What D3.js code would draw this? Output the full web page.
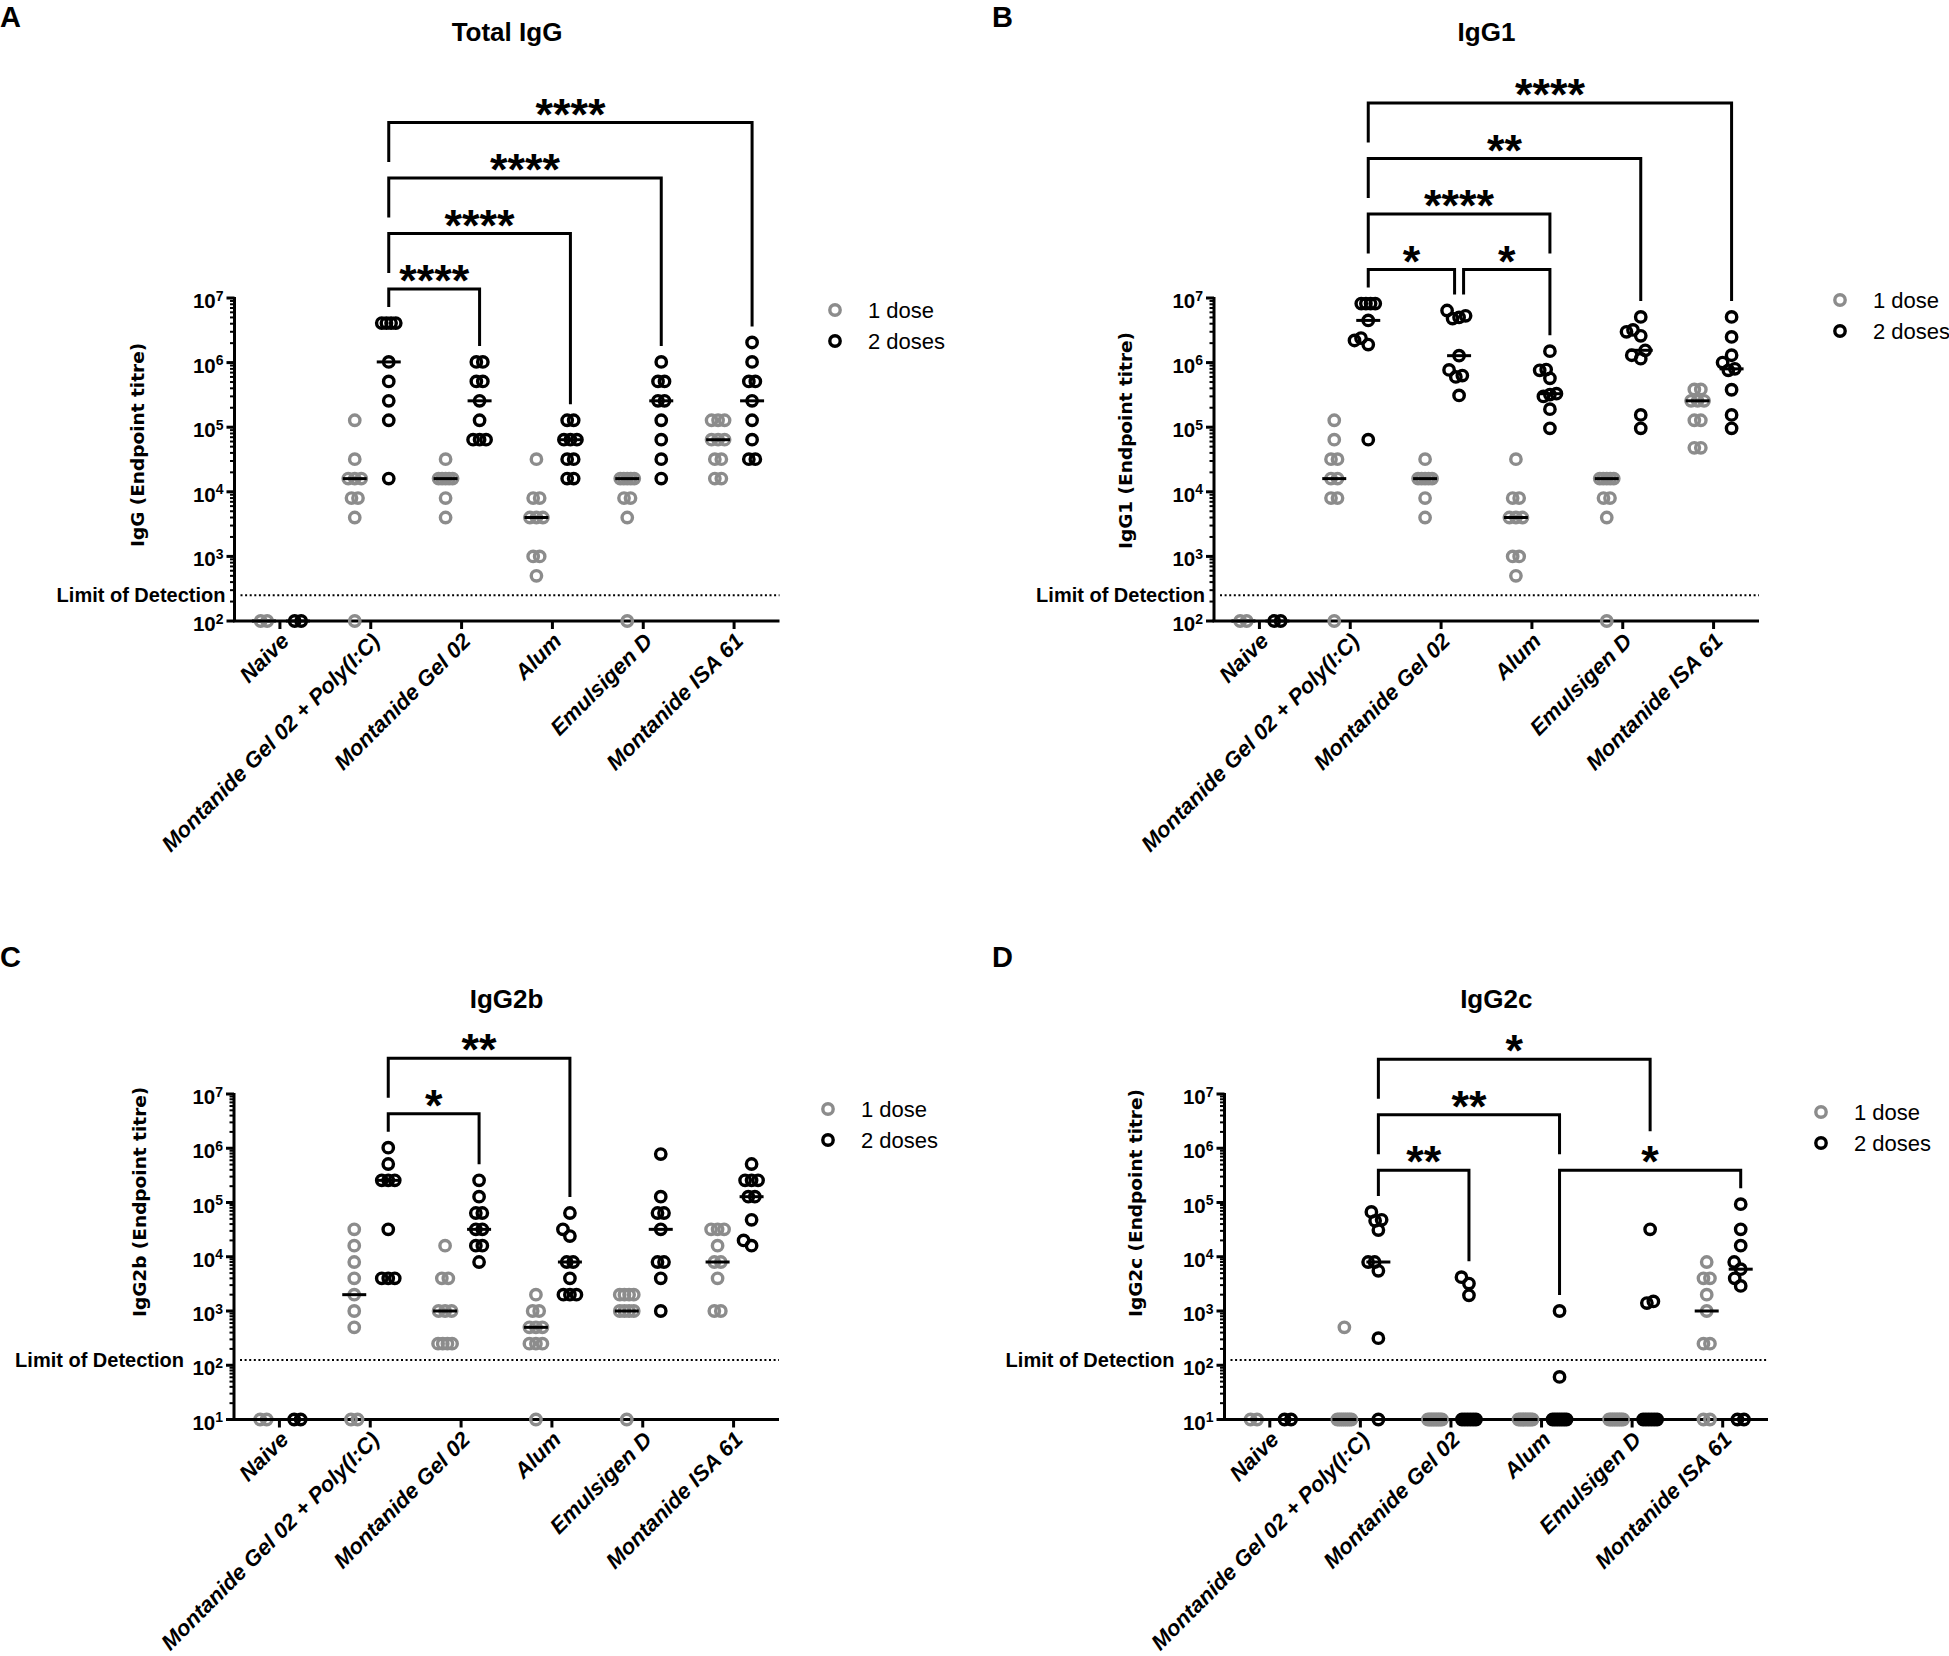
<!DOCTYPE html>
<html>
<head>
<meta charset="utf-8">
<script src="https://cdn.jsdelivr.net/npm/d3@7"></script>
<style>
  body { margin: 0; background: #fff; }
  svg { display: block; }
</style>
</head>
<body>
<svg id="chart" width="1949" height="1656"></svg>
<script>
// ---------------- DATA ----------------
const categories = ["Naive", "Montanide Gel 02 + Poly(I:C)", "Montanide Gel 02", "Alum", "Emulsigen D", "Montanide ISA 61"];
const doseLabels = ["1 dose", "2 doses"];
const panelLetters = ["A", "B", "C", "D"];
const panelTitles = ["Total IgG", "IgG1", "IgG2b", "IgG2c"];
const yAxisTitles = ["IgG (Endpoint titre)", "IgG1 (Endpoint titre)", "IgG2b (Endpoint titre)", "IgG2c (Endpoint titre)"];
const yDomains = [[1e2, 1e7], [1e2, 1e7], [1e1, 1e7], [1e1, 1e7]];
const detectionLimits = [250, 250, 125, 125];
const detectionLabel = "Limit of Detection";

// Total IgG
const iggDose1 = [
  [100, 100],
  [128000, 32000, 16000, 16000, 16000, 8000, 8000, 4000, 100],
  [32000, 16000, 16000, 16000, 16000, 16000, 8000, 4000],
  [32000, 8000, 8000, 4000, 4000, 4000, 1000, 1000, 500],
  [16000, 16000, 16000, 16000, 16000, 8000, 8000, 4000, 100],
  [128000, 128000, 128000, 64000, 64000, 64000, 32000, 32000, 16000, 16000]
];
const iggDose2 = [
  [100, 100],
  [4096000, 4096000, 4096000, 4096000, 1024000, 512000, 256000, 128000, 16000],
  [1024000, 1024000, 512000, 512000, 256000, 128000, 64000, 64000, 64000],
  [128000, 128000, 64000, 64000, 64000, 32000, 32000, 16000, 16000],
  [1024000, 512000, 512000, 256000, 256000, 128000, 64000, 32000, 16000],
  [2048000, 1024000, 512000, 512000, 256000, 128000, 64000, 32000, 32000]
];
// IgG1
const igg1Dose1 = [
  [100, 100],
  [128000, 64000, 32000, 32000, 16000, 16000, 8000, 8000, 100],
  [32000, 16000, 16000, 16000, 16000, 16000, 8000, 4000],
  [32000, 8000, 8000, 4000, 4000, 4000, 1000, 1000, 500],
  [16000, 16000, 16000, 16000, 16000, 8000, 8000, 4000, 100],
  [384000, 384000, 256000, 256000, 256000, 128000, 128000, 48000, 48000]
];
const igg1Dose2 = [
  [100, 100],
  [8192000, 8192000, 8192000, 8192000, 4500000, 2400000, 2200000, 1900000, 64000],
  [6400000, 5300000, 5000000, 4800000, 1280000, 770000, 630000, 600000, 310000],
  [1500000, 780000, 760000, 570000, 330000, 320000, 300000, 190000, 96000],
  [5100000, 3200000, 3000000, 2600000, 1550000, 1300000, 1150000, 155000, 96000],
  [5100000, 2500000, 1300000, 1000000, 800000, 760000, 380000, 155000, 96000]
];
// IgG2b
const igg2bDose1 = [
  [10, 10],
  [32000, 16000, 8000, 4000, 2000, 1000, 500, 10, 10],
  [16000, 4000, 4000, 1000, 1000, 1000, 250, 250, 250, 250],
  [2000, 1000, 1000, 500, 500, 500, 250, 250, 250, 10],
  [2000, 2000, 2000, 2000, 1000, 1000, 1000, 1000, 10],
  [32000, 32000, 32000, 16000, 8000, 8000, 4000, 1000, 1000]
];
const igg2bDose2 = [
  [10, 10],
  [1024000, 512000, 256000, 256000, 256000, 32000, 4000, 4000, 4000],
  [256000, 128000, 64000, 64000, 32000, 32000, 16000, 16000, 8000],
  [64000, 32000, 24000, 8000, 8000, 4000, 2000, 2000, 2000],
  [780000, 128000, 64000, 64000, 32000, 8000, 8000, 4000, 1000],
  [512000, 256000, 256000, 256000, 128000, 128000, 48000, 20000, 16000]
];
// IgG2c
const igg2cDose1 = [
  [10, 10],
  [500, 10, 10, 10, 10, 10, 10, 10, 10],
  [10, 10, 10, 10, 10, 10, 10, 10, 10],
  [10, 10, 10, 10, 10, 10, 10, 10, 10],
  [10, 10, 10, 10, 10, 10, 10, 10, 10],
  [8000, 4000, 4000, 2000, 1000, 250, 250, 10, 10]
];
const igg2cDose2 = [
  [10, 10],
  [67000, 48000, 46000, 31000, 8000, 8000, 5500, 316, 10],
  [4200, 3200, 1950, 10, 10, 10, 10, 10, 10],
  [1000, 61, 10, 10, 10, 10, 10, 10, 10],
  [32000, 1500, 1400, 10, 10, 10, 10, 10, 10],
  [93000, 32000, 16000, 8000, 5900, 4000, 2900, 10, 10]
];

// significance comparisons: [from category, to category, label, stacking level]
const comparisonsA = [[1, 2, "****", 1], [1, 3, "****", 2], [1, 4, "****", 3], [1, 5, "****", 4]];
const comparisonsB = [[1, 2, "*", 1], [2, 3, "*", 1], [1, 3, "****", 2], [1, 4, "**", 3], [1, 5, "****", 4]];
const comparisonsC = [[1, 2, "*", 1], [1, 3, "**", 2]];
const comparisonsD = [[1, 2, "**", 1], [3, 5, "*", 1], [1, 3, "**", 2], [1, 4, "*", 3]];

// ---------------- LAYOUT ----------------
const panels = [
  { dose1: iggDose1,   dose2: iggDose2,   comps: comparisonsA, x0: 234.5, x1: 779.5, yTop: 298,  yBot: 621,    letterX: 0,   letterY: 27,  titleY: 41,   legX: 835,  legY: 310,  yTitleX: 138,  yTitleBottom: 547 },
  { dose1: igg1Dose1,  dose2: igg1Dose2,  comps: comparisonsB, x0: 1214,  x1: 1759,  yTop: 298,  yBot: 621,    letterX: 992, letterY: 27,  titleY: 41,   legX: 1840, legY: 300,  yTitleX: 1126, yTitleBottom: 549 },
  { dose1: igg2bDose1, dose2: igg2bDose2, comps: comparisonsC, x0: 234,   x1: 779,   yTop: 1094, yBot: 1419.5, letterX: 0,   letterY: 967, titleY: 1008, legX: 828,  legY: 1109, yTitleX: 140,  yTitleBottom: 1317 },
  { dose1: igg2cDose1, dose2: igg2cDose2, comps: comparisonsD, x0: 1224.5, x1: 1768, yTop: 1094, yBot: 1419.5, letterX: 992, letterY: 967, titleY: 1008, legX: 1821, legY: 1112, yTitleX: 1136, yTitleBottom: 1317 }
];

const GRAY = "#8c8c8c", BLACK = "#000";
const FONT = "'Liberation Sans', Arial, Helvetica, sans-serif";
const R = 5.2, SW = 3.4;
const OFF1 = -16, OFF2 = 18;

const svg = d3.select("#chart");
svg.append("rect").attr("width", 1949).attr("height", 1656).attr("fill", "#fff");

function swarm(values, cx, y) {
  const pts = values.map(v => ({ v, y: y(v) })).sort((a, b) => b.y - a.y);
  const rows = [];
  for (const p of pts) {
    const last = rows[rows.length - 1];
    if (last && Math.abs(last[0].y - p.y) < 3) last.push(p); else rows.push([p]);
  }
  const placed = [];
  const D = 9.5;
  for (const row of rows) {
    const k = row.length;
    const s = k > 1 ? Math.min(6.5, 14 / (k - 1)) : 0;
    const offs = row.map((p, i) => (i - (k - 1) / 2) * s);
    let chosen = 0;
    outer:
    for (let step = 0; step <= 80; step++) {
      const cands = step === 0 ? [0] : [-step * 0.5, step * 0.5];
      for (const c of cands) {
        const ok = row.every((p, i) => placed.every(q => Math.hypot(cx + c + offs[i] - q.x, p.y - q.y) >= D));
        if (ok) { chosen = c; break outer; }
      }
    }
    row.forEach((p, i) => { p.x = cx + chosen + offs[i]; placed.push(p); });
  }
  return placed;
}

panels.forEach((P, pi) => {
  const g = svg.append("g");
  const x = d3.scaleBand().domain(categories).range([P.x0, P.x1]);
  const y = d3.scaleLog().domain(yDomains[pi]).range([P.yBot, P.yTop]);
  const cx = i => x(categories[i]) + x.bandwidth() / 2;
  const xDose2 = i => cx(i) + OFF2;

  // letter & title
  g.append("text").attr("x", P.letterX).attr("y", P.letterY).text(panelLetters[pi])
    .attr("font-family", FONT).attr("font-weight", "bold").attr("font-size", 29);
  g.append("text").attr("x", (P.x0 + P.x1) / 2).attr("y", P.titleY).text(panelTitles[pi])
    .attr("text-anchor", "middle").attr("font-family", FONT).attr("font-weight", "bold").attr("font-size", 26);

  // LOD line
  const lod = detectionLimits[pi];
  const yl = y(lod);
  g.append("line").attr("x1", P.x0 + 6).attr("x2", P.x1).attr("y1", yl).attr("y2", yl)
    .attr("stroke", BLACK).attr("stroke-width", 2).attr("stroke-dasharray", "2,2.6");
  const majors = d3.range(Math.log10(yDomains[pi][0]), Math.log10(yDomains[pi][1]) + 1).map(e => Math.pow(10, e));
  const nearTick = d3.min(majors, m => Math.abs(y(m) - yl)) < 20;
  g.append("text").attr("x", nearTick ? P.x0 - 50 : P.x0 - 9).attr("y", yl + 7).text(detectionLabel)
    .attr("text-anchor", "end").attr("font-family", FONT).attr("font-weight", "bold").attr("font-size", 20);

  // y axis
  const yAxisG = g.append("g");
  yAxisG.append("line").attr("x1", P.x0).attr("x2", P.x0).attr("y1", P.yTop - 1).attr("y2", P.yBot)
    .attr("stroke", BLACK).attr("stroke-width", 3);
  const minors = [];
  majors.slice(0, -1).forEach(m => { for (let k = 2; k <= 9; k++) minors.push(m * k); });
  yAxisG.selectAll(".minor").data(minors).join("line")
    .attr("x1", P.x0 - 4.5).attr("x2", P.x0).attr("y1", d => y(d)).attr("y2", d => y(d))
    .attr("stroke", BLACK).attr("stroke-width", 2);
  yAxisG.selectAll(".major").data(majors).join("line")
    .attr("x1", P.x0 - 8).attr("x2", P.x0).attr("y1", d => y(d)).attr("y2", d => y(d))
    .attr("stroke", BLACK).attr("stroke-width", 3);
  const lbl = yAxisG.selectAll(".tl").data(majors).join("text")
    .attr("x", P.x0 - 11).attr("y", d => y(d) + 10).attr("text-anchor", "end")
    .attr("font-family", FONT).attr("font-weight", "bold").attr("font-size", 20.5);
  lbl.append("tspan").text("10");
  lbl.append("tspan").attr("dy", -7.5).attr("font-size", 14).text(d => Math.round(Math.log10(d)));

  // y title
  g.append("text").attr("transform", `translate(${P.yTitleX},${P.yTitleBottom}) rotate(-90)`)
    .attr("text-anchor", "start").attr("dy", "0.35em").text(yAxisTitles[pi])
    .attr("font-family", "'DejaVu Sans', Verdana, sans-serif").attr("font-weight", "bold").attr("font-size", 18.5);

  // x axis
  g.append("line").attr("x1", P.x0 - 1.5).attr("x2", P.x1).attr("y1", P.yBot).attr("y2", P.yBot)
    .attr("stroke", BLACK).attr("stroke-width", 3);
  g.selectAll(".xt").data(categories).join("line")
    .attr("x1", (d, i) => cx(i)).attr("x2", (d, i) => cx(i)).attr("y1", P.yBot).attr("y2", P.yBot + 8)
    .attr("stroke", BLACK).attr("stroke-width", 3);
  g.selectAll(".xl").data(categories).join("text")
    .attr("transform", (d, i) => `translate(${cx(i) + 5},${P.yBot + 16}) rotate(-45)`)
    .attr("text-anchor", "end").attr("dy", "0.35em").text(d => d)
    .attr("font-family", FONT).attr("font-weight", "bold").attr("font-style", "italic").attr("font-size", 22);

  // points
  const series = [[P.dose1, OFF1, GRAY], [P.dose2, OFF2, BLACK]];
  series.forEach(([vals, off, col]) => {
    vals.forEach((arr, i) => {
      const pts = swarm(arr, cx(i) + off, y);
      g.append("g").selectAll("circle").data(pts).join("circle")
        .attr("cx", d => d.x).attr("cy", d => d.y).attr("r", R)
        .attr("fill", "none").attr("stroke", col).attr("stroke-width", SW);
    });
  });
  series.forEach(([vals, off]) => {
    vals.forEach((arr, i) => {
      const m = d3.median(arr);
      g.append("line").attr("x1", cx(i) + off - 12).attr("x2", cx(i) + off + 12)
        .attr("y1", y(m)).attr("y2", y(m)).attr("stroke", BLACK).attr("stroke-width", 3);
    });
  });

  // legend
  doseLabels.forEach((lab, k) => {
    const ly = P.legY + k * 31;
    g.append("circle").attr("cx", P.legX).attr("cy", ly).attr("r", R)
      .attr("fill", "none").attr("stroke", k === 0 ? GRAY : BLACK).attr("stroke-width", SW);
    g.append("text").attr("x", P.legX + 33).attr("y", ly + 7.7).text(lab)
      .attr("font-family", FONT).attr("font-size", 22);
  });

  // brackets
  const colMax = i => d3.max(P.dose1[i].concat(P.dose2[i]));
  const lvl1 = P.comps.filter(c => c[3] === 1);
  const base = d3.min(lvl1, c => y(d3.max(d3.range(c[0], c[1] + 1), colMax))) - 34;
  const STEP = 55.5, STARW = 17.5;
  const br = P.comps.map(c => ({ from: c[0], to: c[1], label: c[2], level: c[3],
    yl: base - (c[3] - 1) * STEP, xL: xDose2(c[0]), xR: xDose2(c[1]) }));
  br.forEach(b => {
    br.forEach(o => {
      if (o !== b && o.level === b.level && o.from === b.to) { b.xR -= 4.5; o.xL += 4.5; }
    });
  });
  br.forEach(b => { b.sx = (b.xL + b.xR) / 2; b.sy = b.yl - 19; });
  const legEnd = (b, xp, col) => {
    let end = y(d3.max(P.dose2[col])) - 16;
    br.forEach(o => {
      if (o === b || o.yl <= b.yl + 1) return;
      if (xp >= o.xL - 3 && xp <= o.xR + 3) end = Math.min(end, o.yl - 16);
      const hw = o.label.length * STARW / 2;
      if (xp >= o.sx - hw && xp <= o.sx + hw) end = Math.min(end, o.sy - 20);
    });
    return end;
  };
  br.forEach(b => {
    const eL = legEnd(b, b.xL, b.from), eR = legEnd(b, b.xR, b.to);
    g.append("path").attr("d", `M${b.xL},${eL}V${b.yl}H${b.xR}V${eR}`)
      .attr("fill", "none").attr("stroke", BLACK).attr("stroke-width", 3);
    g.append("text").attr("x", b.sx).attr("y", b.sy + 26).attr("text-anchor", "middle").text(b.label)
      .attr("font-family", FONT).attr("font-weight", "bold").attr("font-size", 45);
  });
});
</script>
</body>
</html>
